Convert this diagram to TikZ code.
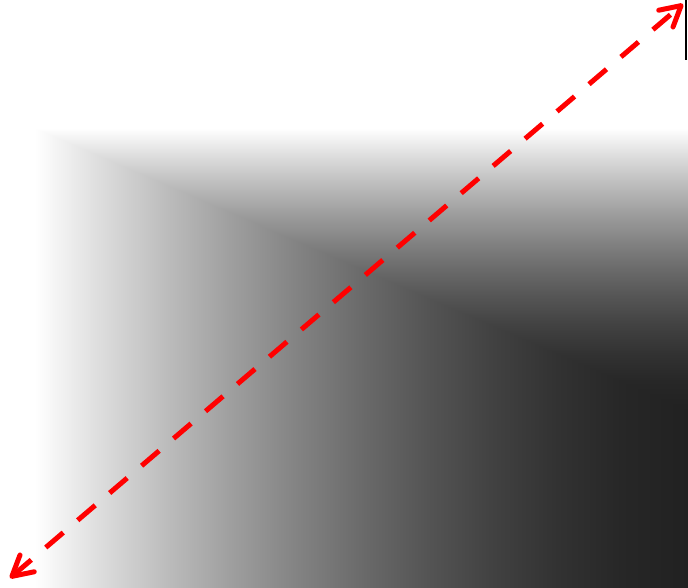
\documentclass[tikz,border=0pt]{standalone}
\usepackage{tikz}
\usetikzlibrary{arrows.meta}

\definecolor{deepgray}{gray}{0.13}

% ramp from white to deep gray, bending quicker into the dark
\pgfdeclarehorizontalshading{fieldramp}{100bp}{
    color(0bp)=(white); color(25bp)=(white);
    color(30bp)=(black!13.5); color(35bp)=(black!26.1);
    color(40bp)=(black!37.8); color(45bp)=(black!48.6);
    color(50bp)=(black!58.3); color(55bp)=(black!66.9);
    color(60bp)=(black!74.3); color(65bp)=(black!80.4);
    color(70bp)=(black!84.8); color(75bp)=(deepgray);
    color(100bp)=(deepgray)}
\pgfdeclareverticalshading{fielddrop}{100bp}{
    color(0bp)=(deepgray); color(25bp)=(deepgray);
    color(30bp)=(black!84.8); color(35bp)=(black!80.4);
    color(40bp)=(black!74.3); color(45bp)=(black!66.9);
    color(50bp)=(black!58.3); color(55bp)=(black!48.6);
    color(60bp)=(black!37.8); color(65bp)=(black!26.1);
    color(70bp)=(black!13.5); color(75bp)=(white);
    color(100bp)=(white)}

\begin{document}
\begin{tikzpicture}[
        x=1pt, y=1pt,
        fadebox/.style={
            shading=fieldramp
        },
        topfade/.style={
            blend mode=lighten,
            shading=fielddrop
        },
        span/.style={
            {Straight Barb[length=20pt, width=22pt, line width=5pt, line cap=round, line join=round]}-{Straight Barb[length=20pt, width=22pt, line width=5pt, line cap=round, line join=round]},
            draw=red,
            line width=5pt,
            dash pattern=on 23pt off 19pt
        }
    ]
        \useasboundingbox (0,0) rectangle (688,587);

        % shaded field
        \coordinate (fieldsw) at (35,0);
        \coordinate (fieldne) at (688,459);
        \coordinate (fieldmid) at (35,177);
        \shade [fadebox] (fieldsw) rectangle (fieldne);
        \shade [topfade] (fieldmid) rectangle (fieldne);

        % edge mark
        \coordinate (marktop) at (686,587);
        \coordinate (markbot) at (686,527);
        \draw [line width=2pt] (markbot) -- (marktop);

        % diagonal
        \coordinate (lo) at (10,9);
        \coordinate (hi) at (683,583);
        \draw [span] (lo) -- (hi);
    \end{tikzpicture}
\end{document}
